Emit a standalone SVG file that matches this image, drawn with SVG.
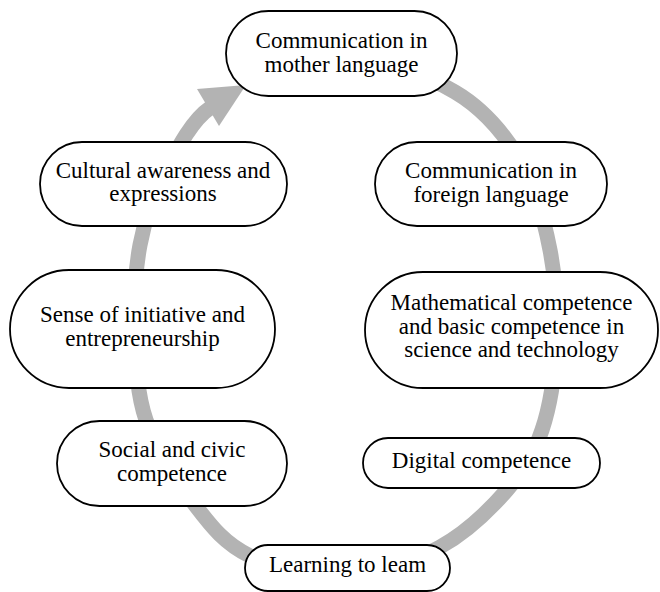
<svg xmlns="http://www.w3.org/2000/svg" width="660" height="592" viewBox="0 0 660 592">
<style>
.box{fill:#fff;stroke:#000;stroke-width:1.8}
.t{font-family:"Liberation Serif","Times New Roman",serif;font-size:23px;fill:#000;text-anchor:middle}
.ring{fill:none;stroke:#b3b3b3;stroke-width:15}
.head{fill:#b3b3b3}
</style>
<rect width="660" height="592" fill="#fff"/>
<g id="connectors">
<path class="ring" d="M345,57 C379.7,58 425.8,74.8 455,92 C484.2,109.2 504.2,133.7 520,160 C535.8,186.3 544,219.2 550,250 C556,280.8 557.3,315 556,345 C554.7,375 550.2,405.8 542,430 C533.8,454.2 524,470.5 507,490 C490,509.5 467,532.3 440,547 C413,561.7 376.7,576.5 345,578 C313.3,579.5 275,568.2 250,556 C225,543.8 212.3,527.7 195,505 C177.7,482.3 156,449.2 146,420 C136,390.8 136,359.2 135,330 C134,300.8 135,271.3 140,245 C145,218.7 153,194.5 165,172 C177,149.5 192,120 210,108"/>
<polygon class="head" points="197,89 219,126 246,85"/>
</g>
<g id="n1"><rect class="box" x="226" y="11" width="231" height="85" rx="42.5"/><text class="t" x="341.5" y="48">Communication in</text><text class="t" x="341.5" y="71.5">mother language</text></g>
<g id="n2"><rect class="box" x="40" y="142" width="247" height="84" rx="42"/><text class="t" x="163" y="177.5">Cultural awareness and</text><text class="t" x="163" y="201">expressions</text></g>
<g id="n3"><rect class="box" x="375" y="142" width="232" height="84" rx="42"/><text class="t" x="491" y="178">Communication in</text><text class="t" x="491" y="201.5">foreign language</text></g>
<g id="n4"><rect class="box" x="10" y="270" width="265" height="118" rx="59"/><text class="t" x="142.5" y="322">Sense of initiative and</text><text class="t" x="142.5" y="345.5">entrepreneurship</text></g>
<g id="n5"><rect class="box" x="365" y="272" width="293" height="116" rx="58"/><text class="t" x="511.5" y="310">Mathematical competence</text><text class="t" x="511.5" y="333.5">and basic competence in</text><text class="t" x="511.5" y="357">science and technology</text></g>
<g id="n6"><rect class="box" x="57" y="421" width="230" height="85" rx="42.5"/><text class="t" x="172" y="457">Social and civic</text><text class="t" x="172" y="480.5">competence</text></g>
<g id="n7"><rect class="box" x="363" y="438" width="237" height="50" rx="25"/><text class="t" x="481.5" y="468">Digital competence</text></g>
<g id="n8"><rect class="box" x="245" y="545" width="205" height="46" rx="23"/><text class="t" x="347.5" y="572">Learning to leam</text></g>
</svg>
